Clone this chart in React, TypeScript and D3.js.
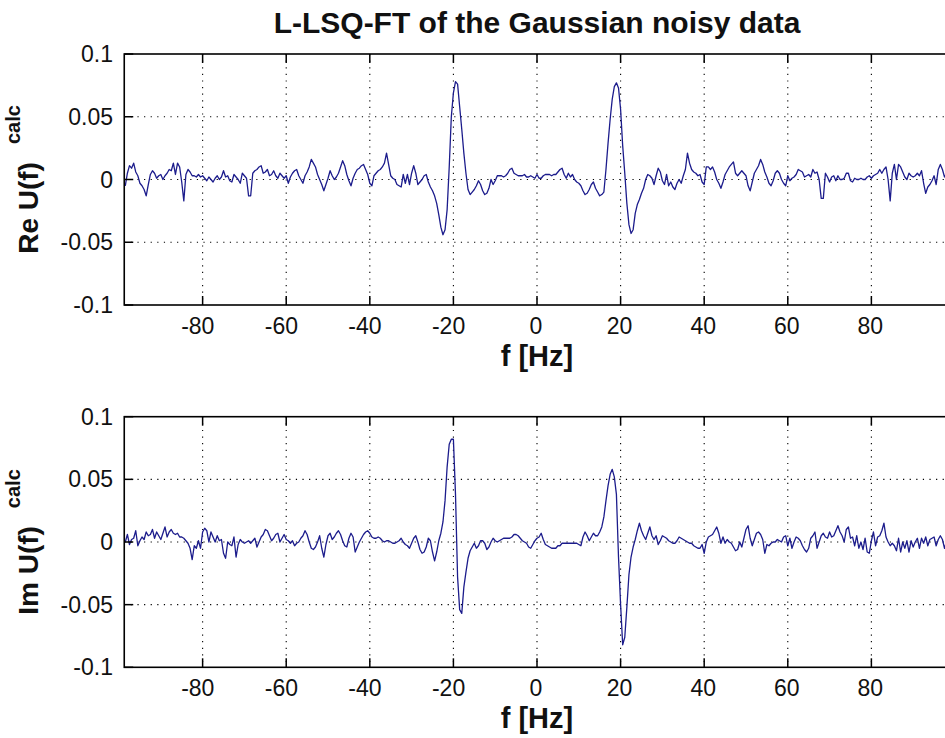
import React from "react";
import * as d3 from "d3";

// spectrum is sampled every 0.5 Hz, split into three blocks
const STEP = 0.5;
const blockStart = [-98.5, -32.5, 32];

// Re U(f) calc, in units of 1e-3
const reLow = [
  -5, 5, 11, 9, 13, 6, 3, -3, -5, -8,
  -13, -4, 4, 7, 5, 1, 3, 4, 0, 3,
  5, 8, 7, 13, 4, 13, 10, -2, -17, 4,
  8, 6, 3, 3, 2, 4, 2, 3, 1, -1,
  2, 0, -2, 1, 3, 0, 2, 7, 2, 3,
  -1, -2, 4, 2, 0, -3, 5, 3, 1, -13,
  -13, 5, 7, 8, 10, 11, 5, 6, 8, 3,
  4, 7, 3, 1, 5, 3, 1, 3, -3, 2,
  5, 7, 8, 3, 0, -3, 3, 6, 10, 16,
  13, 10, 4, 0, -4, -9, -4, 1, 7, 3,
  0, 2, 5, 10, 15, 11, 4, -1, -5, 1,
  5, 8, 9, 11, 12, 8, 4, -3, -5, 3,
  5, 7, 8, 10, 13, 21, 12, 3, 1, 0,
  -4, -5,
];
const reMid = [
  -6, 4, -3, 4, -4, 5, 11, 5, -4, -2,
  0, 3, 4, -2, -6, -9, -13, -19, -28, -38,
  -44, -40, -24, 10, 50, 69, 78, 76, 58, 40,
  21, 5, -8, -12, -10, -8, -5, -1, -4, -9,
  -12, -11, -7, 0, -4, -1, 3, 3, 3, 2,
  3, 5, 8, 9, 5, 4, 3, 3, 3, 4,
  2, 2, 3, 2, 1, 4, 1, 1, 3, 4,
  4, 4, 3, 4, 4, 6, 8, 9, 4, 1,
  5, 2, 4, 0, -2, -3, -5, -9, -12, -11,
  -8, -4, -2, -7, -10, -13, -12, -10, 8, 29,
  48, 64, 74, 77, 73, 56, 27, 5, -19, -36,
  -43, -40, -27, -20, -16, -11, -7, 0, 4, 3,
  1, -4, 3, 9, 6, -1, -4, 4, -5,
];
const reHigh = [
  -2, -6, -8, -3, 0, -3, 3, 8, 21, 13,
  8, 6, 5, 3, 4, -2, -4, 10, 10, 8,
  10, 6, 0, -3, -7, -2, 4, 7, 10, 12,
  14, 5, 3, 5, 7, 5, 3, -5, -9, -2,
  5, 8, 11, 16, 12, 6, 2, -3, -5, -1,
  5, 7, 5, 0, -3, -5, 3, -1, 1, 2,
  4, 8, 7, 6, 2, 3, 4, 2, 8, 5,
  6, 0, -15, -15, 5, 2, -2, 2, 3, -1,
  3, 0, 0, 1, 5, 5, -1, -2, 1, 0,
  0, 1, 0, 0, 2, 3, 1, 3, 4, 5,
  8, 5, 8, 10, 0, -17, 5, 12, 0, 12,
  10, 6, 2, 0, 5, 3, 2, 3, 5, 3,
  7, -3, -11, -6, -4, -1, 3, -4, 8, 12,
  8, 2, 5, -2,
];

// Im U(f) calc, in units of 1e-3
const imLow = [
  0, 6, -2, 2, 3, 9, -3, 1, 4, 2,
  8, 5, 6, 10, 3, 8, 5, 2, 7, 12,
  4, 8, 10, 7, 6, 7, 4, 4, 3, 1,
  -1, -5, -14, -3, -5, 1, -5, 8, 11, 9,
  0, 8, 4, 0, 5, 1, 2, -9, -13, 0,
  -2, -3, 4, -12, -2, 2, 0, -1, 0, 1,
  -1, 1, 3, -4, 0, 4, 6, 10, 9, 5,
  1, 3, 6, 7, 0, 3, 6, 2, 1, -1,
  1, -3, -1, 0, 3, 5, 9, 6, 0, -5,
  -6, -4, 0, 5, -5, -12, -2, 5, 7, 2,
  4, 7, 9, 6, 1, -3, -4, 3, 7, 4,
  -8, -4, 0, 3, 6, 8, 9, 7, 4, 3,
  3, 4, 3, 1, 0, 1, 1, 0, -1, -1,
  0, 1,
];
const imMid = [
  3, 0, -2, -3, -5, -1, 3, 5, 0, -6,
  -9, -8, -4, 3, 1, -8, -15, -8, 1, 7,
  16, 33, 60, 78, 82, 82, 38, -28, -54, -57,
  -36, -24, -13, -7, -4, -1, -5, -3, 1, 1,
  -1, -6, -4, 0, 3, 1, 0, 1, 2, 3,
  3, 3, 3, 4, 6, 6, 5, 3, 1, 0,
  -1, -4, -5, -2, 1, 3, 4, 7, 2, -2,
  -3, -4, -5, -5, -5, -3, -3, -1, -1, -1,
  -1, -1, -1, -1, -1, -2, -3, 4, 8, 5,
  1, 4, 7, 5, 5, 8, 12, 20, 33, 45,
  54, 58, 52, 38, -12, -50, -82, -76, -52, -26,
  -12, -4, 2, 9, 15, 9, 5, 2, 7, 12,
  5, 2, 5, -2, 1, 5, 4, 3, 1,
];
const imHigh = [
  0, -1, -1, 1, 4, 3, 2, 1, 0, -1,
  -1, -3, -4, -5, -5, -2, -9, 0, 4, 5,
  6, 9, 12, 7, -1, 4, -1, 2, 0, -1,
  -4, -7, -6, 0, -4, 3, 10, 13, 3, -3,
  2, 7, 8, 6, 2, -9, -2, -3, -1, 0,
  0, 2, 1, 0, 4, 5, -3, 3, -5, 0,
  4, 3, 1, -3, -6, -8, -5, 3, 5, 8,
  -5, 0, 5, 7, 4, 3, 8, 4, 5, 9,
  13, 8, 5, 0, 10, 12, 3, 4, -3, 5,
  -5, 0, -6, 3, -8, -9, 1, 8, -3, 4,
  5, 9, 15, 4, 0, -3, -1, -3, -7, 3,
  -8, 0, -5, 1, -8, 1, -4, 0, 3, -5,
  3, -1, 4, -3, 2, 3, 4, -3, 2, 5,
  2, -5, 1, -2,
];

const xTicks = [-80, -60, -40, -20, 0, 20, 40, 60, 80];
const yTicks = [-0.1, -0.05, 0, 0.05, 0.1];
const yTickLabels = ["-0.1", "-0.05", "0", "0.05", "0.1"];

type Pt = { f: number; v: number };

function toSeries(blocks: number[][]): Pt[] {
  return blocks.flatMap((vals, b) =>
    vals.map((v, i) => ({ f: blockStart[b] + i * STEP, v: v / 1000 }))
  );
}

const reData = toSeries([reLow, reMid, reHigh]);
const imData = toSeries([imLow, imMid, imHigh]);

const FONT = "'Liberation Sans', Arial, Helvetica, sans-serif";
const W = 945;
const H = 738;
const LEFT = 124.25;
const RIGHT = 949.75;
const TICK_FS = 23;
const LABEL_FS = 28;

function Panel({ id, top, bottom, data, label }: { id: string; top: number; bottom: number; data: Pt[]; label: string }) {
  const x = d3.scaleLinear().domain([-98.75, 98.75]).range([LEFT, RIGHT]);
  const y = d3.scaleLinear().domain([-0.1, 0.1]).range([bottom, top]);
  const line = d3.line<Pt>().x(d => x(d.f)).y(d => y(d.v));
  const mid = (top + bottom) / 2;
  const digitW = 0.556 * TICK_FS;

  return (
    <g>
      <defs>
        <clipPath id={id}>
          <rect x={LEFT} y={top} width={RIGHT - LEFT} height={bottom - top} />
        </clipPath>
      </defs>

      {/* dotted grid */}
      <g stroke="#000" strokeWidth={1.1} strokeDasharray="1.2 5.4">
        {xTicks.map(t => (
          <line key={"gx" + t} x1={x(t)} x2={x(t)} y1={top} y2={bottom} />
        ))}
        {yTicks.filter(t => Math.abs(t) < 0.09).map(t => (
          <line key={"gy" + t} x1={LEFT} x2={RIGHT} y1={y(t)} y2={y(t)} />
        ))}
      </g>

      <path d={line(data) || ""} fill="none" stroke="#1c1c8c" strokeWidth={1.3}
        strokeLinejoin="round" clipPath={`url(#${id})`} />

      {/* box and inward ticks */}
      <rect x={LEFT} y={top} width={RIGHT - LEFT} height={bottom - top}
        fill="none" stroke="#000" strokeWidth={1.6} />
      <g stroke="#000" strokeWidth={1.5}>
        {xTicks.map(t => (
          <g key={"tx" + t}>
            <line x1={x(t)} x2={x(t)} y1={bottom} y2={bottom - 9} />
            <line x1={x(t)} x2={x(t)} y1={top} y2={top + 9} />
          </g>
        ))}
        {yTicks.map(t => (
          <line key={"ty" + t} x1={LEFT} x2={LEFT + 9} y1={y(t)} y2={y(t)} />
        ))}
      </g>

      <g fontFamily={FONT} fontSize={TICK_FS} fill="#111">
        {xTicks.map(t => {
          const digits = String(Math.abs(t)).length;
          return (
            <text key={"lx" + t} x={x(t) - 1 + (digits * digitW) / 2} y={bottom + 29} textAnchor="end">
              {String(t)}
            </text>
          );
        })}
        {yTicks.map((t, i) => (
          <text key={"ly" + t} x={113} y={y(t)} dy="0.35em" textAnchor="end">
            {yTickLabels[i]}
          </text>
        ))}
      </g>

      <text x={537} y={bottom + 61} textAnchor="middle" fontFamily={FONT}
        fontWeight="bold" fontSize={29} fill="#111">f [Hz]</text>

      <text transform={`translate(38,${mid}) rotate(-90)`} textAnchor="middle"
        fontFamily={FONT} fontWeight="bold" fill="#111">
        <tspan fontSize={LABEL_FS}>{label}</tspan>
        <tspan dx={18} dy={-18} fontSize={20}>calc</tspan>
      </text>
    </g>
  );
}

export default function App() {
  return (
    <svg width={W} height={H} style={{ position: "absolute", left: 0, top: 0, background: "#fff" }}>
      <rect width={W} height={H} fill="#fff" />
      <text x={537} y={33} textAnchor="middle" fontFamily={FONT} fontWeight="bold"
        fontSize={30} fill="#111">L-LSQ-FT of the Gaussian noisy data</text>
      <Panel id="clipRe" top={54} bottom={305} data={reData} label="Re U(f)" />
      <Panel id="clipIm" top={416.7} bottom={667.3} data={imData} label="Im U(f)" />
    </svg>
  );
}
